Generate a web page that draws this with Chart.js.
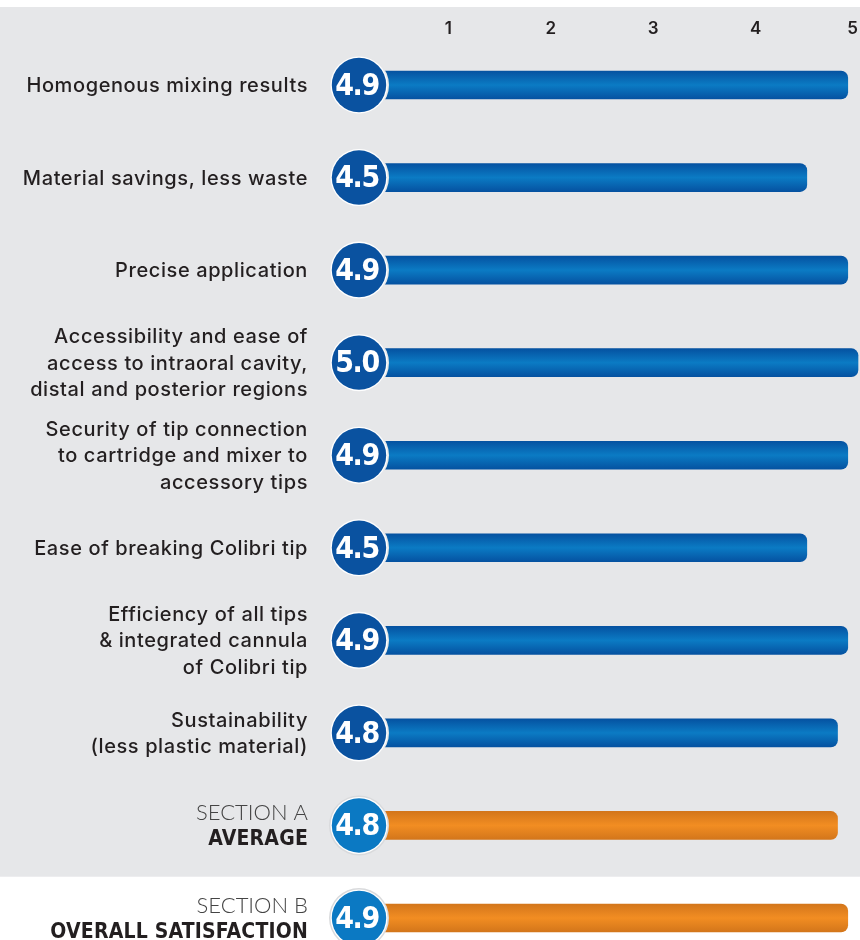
<!DOCTYPE html>
<html>
<head>
<meta charset="utf-8">
<script src="https://cdn.jsdelivr.net/npm/chart.js@4.4.1/dist/chart.umd.min.js"></script>
<style>
  html, body { margin: 0; padding: 0; background: #fff; }
  #wrap { width: 860px; height: 940px; }
</style>
</head>
<body>
<div id="wrap"><canvas id="chart" width="860" height="940"></canvas></div>
<script>
'use strict';

// ===== data =====
const itemLabels = [
  ['Homogenous mixing results'],
  ['Material savings, less waste'],
  ['Precise application'],
  ['Accessibility and ease of', 'access to intraoral cavity,', 'distal and posterior regions'],
  ['Security of tip connection', 'to cartridge and mixer to', 'accessory tips'],
  ['Ease of breaking Colibri tip'],
  ['Efficiency of all tips', '& integrated cannula', 'of Colibri tip'],
  ['Sustainability', '(less plastic material)'],
];
const itemScores = [4.9, 4.5, 4.9, 5.0, 4.9, 4.5, 4.9, 4.8];

const sectionLabels = [
  ['SECTION A', 'AVERAGE'],
  ['SECTION B', 'OVERALL SATISFACTION'],
];
const sectionScores = [4.8, 4.9];

const xMin = 0;
const xMax = 5;
const xStep = 1;

// ===== helpers =====
const allLabels = itemLabels.concat(sectionLabels);
const allScores = itemScores.concat(sectionScores);
const isSection = i => i >= itemScores.length;

const LABEL_FONT = '"Inter", "Open Sans", sans-serif';

function setSpacing(ctx, px) {
  if ('letterSpacing' in ctx) ctx.letterSpacing = px + 'px';
}

function barGradient(ctx) {
  const chart = ctx.chart;
  if (!chart.chartArea || ctx.dataIndex == null) return '#0a5aa8';
  const y = chart.scales.y.getPixelForValue(ctx.dataIndex);
  const g = chart.ctx.createLinearGradient(0, y - 14, 0, y + 14);
  if (isSection(ctx.dataIndex)) {
    g.addColorStop(0, '#d3761b');
    g.addColorStop(0.5, '#f28d22');
    g.addColorStop(1, '#d3761b');
  } else {
    g.addColorStop(0, '#0552a1');
    g.addColorStop(0.5, '#0b7bc4');
    g.addColorStop(1, '#0552a1');
  }
  return g;
}

// 背景（グレー帯）
const backgroundPlugin = {
  id: 'panelBg',
  beforeDraw(chart) {
    const { ctx, width } = chart;
    const y = chart.scales.y;
    const n = itemScores.length;
    const split = (y.getPixelForValue(n) + y.getPixelForValue(n + 1)) / 2 + 5;
    ctx.save();
    ctx.fillStyle = '#ffffff';
    ctx.fillRect(0, 0, width, chart.height);
    ctx.fillStyle = '#e6e7e9';
    ctx.fillRect(0, 7, width, split - 7);
    ctx.restore();
  },
};

// 行ラベルとスコアバッジ
const rowDecorPlugin = {
  id: 'rowDecor',
  afterDatasetsDraw(chart) {
    const { ctx, chartArea } = chart;
    const y = chart.scales.y;
    const x = chart.scales.x;
    const right = chartArea.left - 38;
    const bx = x.getPixelForValue(0) + 13;

    ctx.save();
    allLabels.forEach((lines, i) => {
      const cy = y.getPixelForValue(i);
      const lh = 26.5;
      const top = cy - (lines.length - 1) * lh / 2;
      ctx.textAlign = 'right';
      ctx.textBaseline = 'middle';
      lines.forEach((line, k) => {
        if (isSection(i)) {
          if (k === 0) {
            ctx.font = '300 22px "Lato", sans-serif';
            ctx.fillStyle = '#444444';
            setSpacing(ctx, 0);
          } else {
            ctx.font = 'bold 21px "DejaVu Sans Condensed", "Liberation Sans Narrow", sans-serif';
            ctx.fillStyle = '#231f20';
            setSpacing(ctx, 0.2);
          }
        } else {
          ctx.font = '500 20px ' + LABEL_FONT;
          ctx.fillStyle = '#231f20';
          setSpacing(ctx, 0.6);
        }
        ctx.fillText(line, right, top + k * lh + 1);
      });
      setSpacing(ctx, 0);

      // badge
      ctx.beginPath();
      ctx.arc(bx, cy, 30, 0, Math.PI * 2);
      ctx.fillStyle = isSection(i) ? '#d9dadc' : '#e6e7e9';
      ctx.fill();
      ctx.beginPath();
      ctx.arc(bx, cy, 28.5, 0, Math.PI * 2);
      ctx.fillStyle = '#ffffff';
      ctx.fill();
      ctx.beginPath();
      ctx.arc(bx, cy, 27.2, 0, Math.PI * 2);
      ctx.fillStyle = isSection(i) ? '#0b79c3' : '#0a52a0';
      ctx.fill();

      ctx.fillStyle = '#ffffff';
      ctx.textAlign = 'center';
      ctx.font = 'bold 30px "DejaVu Sans Condensed", "Liberation Sans Narrow", "DejaVu Sans", sans-serif';
      setSpacing(ctx, -1.5);
      ctx.fillText(allScores[i].toFixed(1), bx - 2, cy + 2);
      setSpacing(ctx, 0);
    });
    ctx.restore();
  },
};

// ===== chart =====
new Chart(document.getElementById('chart'), {
  type: 'bar',
  data: {
    labels: allLabels.map((l, i) => String(i)),
    datasets: [{
      data: allScores,
      backgroundColor: barGradient,
      borderWidth: 0,
      borderRadius: 7,
      barThickness: 28,
      clip: false,
    }],
  },
  options: {
    indexAxis: 'y',
    responsive: false,
    animation: false,
    devicePixelRatio: 1,
    layout: { padding: { left: 346, right: 2, top: 0, bottom: 22 } },
    plugins: {
      legend: { display: false },
      tooltip: { enabled: false },
    },
    scales: {
      x: {
        position: 'top',
        min: xMin,
        max: xMax,
        ticks: {
          stepSize: xStep,
          padding: 0,
          align: 'inner',
          color: '#231f20',
          // 行高を大きくしてラベルを上端へ寄せる
          font: { family: LABEL_FONT, size: 17, weight: '600', lineHeight: 6.6 },
          callback: v => (v === 0 ? '' : v),
        },
        grid: { display: false, drawTicks: false },
        border: { display: false },
        afterFit: s => { s.height = 85; },
      },
      y: {
        type: 'category',
        offset: false,
        display: false,
      },
    },
  },
  plugins: [backgroundPlugin, rowDecorPlugin],
});
</script>
</body>
</html>
